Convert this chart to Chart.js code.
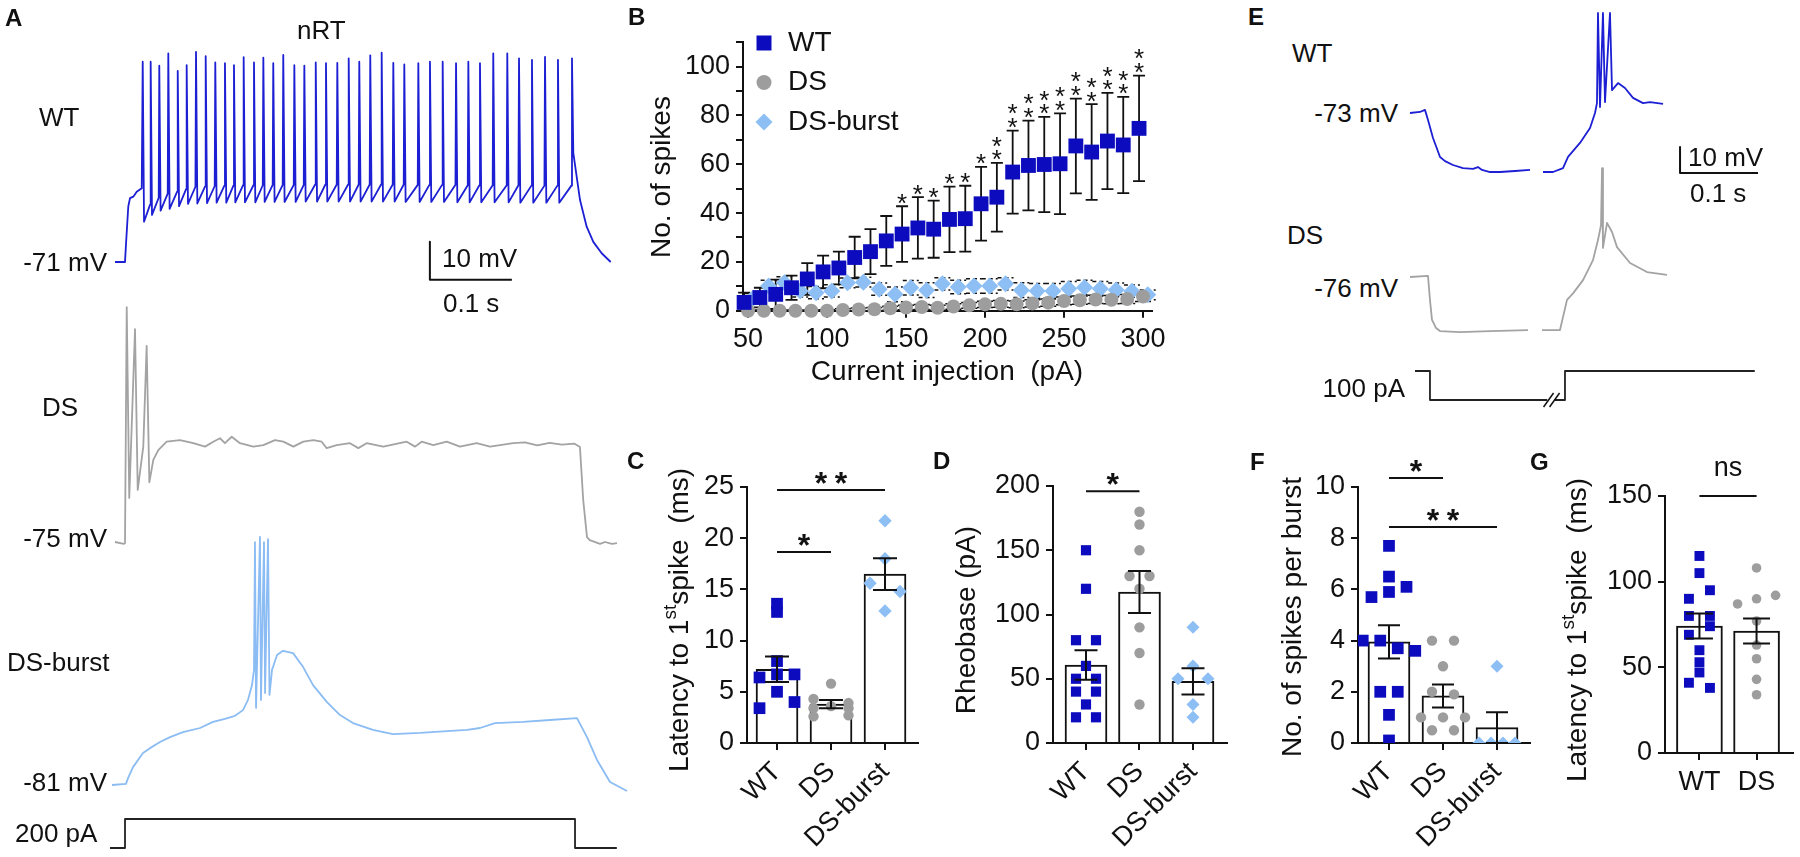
<!DOCTYPE html>
<html>
<head>
<meta charset="utf-8">
<script src="https://cdn.jsdelivr.net/npm/chart.js@4.4.1/dist/chart.umd.min.js"></script>
<style>
html, body { margin: 0; padding: 0; background: #fff; }
#page { position: relative; width: 1800px; height: 857px; overflow: hidden; font-family: "Liberation Sans", Arial, sans-serif; color: #111; }
canvas { position: absolute; }
.t { position: absolute; font-size: 26px; line-height: 1; white-space: nowrap; transform: translateY(-50%); z-index: 2; }
.b { font-weight: bold; font-size: 24px; }
</style>
</head>
<body>
<div id="page"></div>
<script>
// ---------- B: number of spikes vs injected current ----------
const currents = [50, 60, 70, 80, 90, 100, 110, 120, 130, 140, 150, 160, 170, 180, 190, 200, 210, 220, 230, 240, 250, 260, 270, 280, 290, 300];
const wtSpikes = [3.4, 5.4, 6.7, 9.4, 13, 15.9, 17.5, 21.8, 24.2, 28.6, 31.4, 33.9, 33.4, 37.4, 37.7, 43.8, 46.5, 56.8, 59.5, 59.9, 60.2, 67.5, 65, 69.5, 67.9, 74.7];
const wtSpikesErr = [4, 4, 6, 5, 6.5, 6.7, 6.7, 8.5, 9.2, 10.2, 11.4, 12.6, 11.7, 13.4, 13.5, 15.1, 14.1, 17, 18.4, 19.5, 20.6, 19.4, 19.6, 19.7, 19.7, 21.6];
const dsSpikes = [0, 0, 0, 0, 0, 0, 0.3, 0.5, 0.6, 1, 1.3, 1.5, 1.2, 1.7, 2.2, 2.6, 2.8, 2.6, 3, 3.3, 4, 4.3, 4.6, 4.5, 4.8, 5.8];
const dsSpikesErr = [0.3, 0.3, 0.3, 0.3, 0.3, 0.4, 0.5, 0.6, 0.7, 0.8, 0.9, 1, 1, 1.1, 1.2, 1.3, 1.4, 1.4, 1.5, 1.5, 1.6, 1.7, 1.7, 1.7, 1.8, 2];
const burstSpikes = [5, 10.1, 11.4, 8.1, 7.4, 8.1, 11.4, 11.7, 8.8, 6.7, 9.4, 8.4, 11, 9.7, 10.1, 10.1, 11, 8.4, 8.1, 8.1, 9, 9.5, 9, 8.5, 8, 6.5];
const burstSpikesErr = [2, 2.4, 2.5, 2.5, 2.5, 2.5, 2, 2, 2.5, 3, 3, 3, 2.5, 2.8, 3, 3, 2.5, 3, 3, 3, 3, 3, 3, 2.8, 2.5, 2];
const wtStars = [0, 0, 0, 0, 0, 0, 0, 0, 0, 0, 1, 1, 1, 1, 1, 1, 2, 2, 2, 2, 2, 2, 2, 2, 2, 2];
const xTicksB = [50, 100, 150, 200, 250, 300];
const yTicksB = [0, 10, 20, 30, 40, 50, 60, 70, 80, 90, 100, 110];

// ---------- C, D, F, G: dot + bar panels ----------
const groups3 = ['WT', 'DS', 'DS-burst'];
const groups2 = ['WT', 'DS'];

const latWT = [13.6, 12.8, 8.0, 6.4, 6.7, 6.7, 5.0, 3.4, 4.0];
const latDS = [5.8, 4.3, 3.9, 3.4, 3.6, 3.4, 2.6, 2.7];
const latBurst = [21.7, 18, 15.6, 14.8, 12.9];
const latMean = [7.2, 3.8, 16.5];
const latSem = [1.25, 0.4, 1.55];
const yTicksC = [0, 5, 10, 15, 20, 25];

const rheoWT = [150, 120, 80, 80, 60, 50, 50, 40, 40, 30, 20, 20];
const rheoDS = [180, 170, 150, 130, 130, 120, 90, 70, 30];
const rheoBurst = [90, 60, 50, 50, 30, 20];
const rheoMean = [60.7, 117.5, 48];
const rheoSem = [11.5, 16.3, 10.2];
const yTicksD = [0, 50, 100, 150, 200];

const perBurstWT = [7.7, 6.5, 5.7, 5.9, 6.1, 4, 4, 3.7, 3.6, 2, 2, 1.1, 0.1];
const perBurstDS = [4, 4, 3, 2, 1.9, 1, 1, 1, 0.5, 0.5];
const perBurstBurst = [3, 0, 0, 0, 0];
const perBurstMean = [3.95, 1.84, 0.6];
const perBurstSem = [0.65, 0.45, 0.6];
const yTicksF = [0, 2, 4, 6, 8, 10];

const lat2WT = [115, 105, 90, 95, 80, 80, 69, 74, 60, 53, 47, 41, 38];
const lat2DS = [108, 87, 90, 92, 77, 63, 55, 43, 34];
const lat2Mean = [74.1, 71.2];
const lat2Sem = [7.3, 7.3];
const yTicksG = [0, 50, 100, 150];

// ---------- A: nRT traces (ms, mV) ----------
const wtOnsetA = [[0, -71], [12.2, -71], [13.5, -66], [16.2, -56.4], [18.3, -54.2], [22.3, -53.8], [26.5, -52.5], [32.6, -51.6]];
const wtSpikeTimesA = [33.8, 43.5, 54.0, 65.0, 76.5, 87.4, 98.8, 110.6, 122.3, 134.1, 145.1, 156.9, 169.5, 180.9, 193.0, 205.2, 218.7, 230.9, 244.8, 257.3,
  271.1, 285.0, 297.9, 311.3, 325.2, 339.4, 352.8, 369.9, 384.1, 399.6, 415.9, 430.9, 445.1, 461.3, 478.4, 492.7, 508.5, 524.4, 540.2, 557.3];
const wtSpikePeaksA = [-18.3, -18.3, -19.3, -16.1, -20.7, -19.2, -15.7, -16.8, -18.5, -18.7, -19.2, -17.1, -18.5, -17.2, -18.7, -16.5, -19.2, -19.3, -18.5, -18.7,
  -18.6, -17.4, -18.3, -16.6, -15.9, -18.6, -19.0, -18.7, -18.3, -18.3, -18.7, -18.3, -18.7, -16.1, -16.1, -17.4, -17.8, -17.0, -17.8, -17.4];
const wtTroughsA = [-60.4, -58.6, -57.5, -57, -56.3, -55.7, -55.6, -55.5, -55.4, -55.4, -55.3, -55.3, -55.3, -55.2, -55.2, -55.2, -55.2, -55.1, -55.1, -55.1,
  -55.1, -55.1, -55.1, -55.1, -55.1, -55.1, -55.2, -55.2, -55.2, -55.2, -55.3, -55.3, -55.3, -55.3, -55.3, -55.4, -55.4, -55.4, -55.4];
const wtOffsetA = [[558.9, -42.3], [567.1, -54.7], [575.2, -61.7], [583.3, -65.7], [593.5, -68.7], [604.5, -71]];
const dsTraceA = [[0, -75], [11, -75.5], [12.2, -75.3], [14.3, -13.2], [17.4, -63.4], [24.4, -19], [27.7, -61.3], [34.5, -49.9], [38.6, -23.4], [41.9, -59.3],
  [46.7, -53.4], [52.8, -50.8], [63, -48.6], [79.3, -48.2], [95.5, -49], [109.8, -49.9], [119.9, -48.6], [128, -47.7], [134.1, -49], [142.3, -47.3],
  [152.4, -49], [168.7, -49.9], [180.9, -49.5], [195.1, -48.2], [205.3, -48.6], [217.5, -49.9], [229.7, -48.6], [241.9, -48.2], [252, -48.6], [258.1, -50.3],
  [270.3, -49.5], [286.6, -49], [296.7, -50.3], [306.9, -49], [327.2, -49.9], [355.7, -48.6], [365.9, -49.9], [374, -48.6], [388.2, -49.5], [404.5, -48.6],
  [420.7, -49.9], [441.1, -49], [457.3, -49.9], [485.7, -49], [500, -48.8], [515, -49.6], [530, -48.9], [545, -49.4], [560, -49.1], [567, -50],
  [571, -64], [575.6, -73.7], [579, -74.5], [591.5, -75.5], [597.6, -75], [606, -75.5], [612.2, -75.3]];
const burstTraceA = [[-3.7, -81], [13.4, -80.7], [15.9, -79.2], [22, -76.3], [34.1, -72.6], [42.7, -71.3], [54.9, -69.7], [67.1, -68.4], [82.9, -67.1], [103.7, -66],
  [119.5, -64.4], [134.1, -63.6], [146.3, -62.8], [156.1, -61.3], [162.2, -58.6], [167.1, -54.7], [169.5, -50.7], [170.7, -17.1], [172, -60.7], [176.8, -15.7],
  [178, -58.6], [181.7, -17.1], [183, -56.8], [186.6, -16.3], [188.4, -57.3], [191.5, -50.7], [197.6, -46.8], [204.9, -45.7], [217.1, -46.3], [229.3, -49.9],
  [241.5, -54.7], [258.5, -59.2], [274.4, -62.6], [290.2, -64.7], [314.6, -66.5], [339, -67.6], [372, -67.3], [404.9, -66.8], [429.3, -66.5], [445.1, -66],
  [463.4, -64.7], [497.6, -64.4], [530.5, -63.9], [563.4, -63.4], [575.6, -68.4], [587.8, -74.4], [603.7, -80.2], [624.4, -82.6]];
const stepA = [[-6.1, 0], [12.2, 0], [12.2, 200], [561, 200], [561, 0], [612, 0]];
const scaleBarA = { t: 384, v: -75.7, dt: 100, dv: 10 };

// ---------- E: rebound traces (ms, mV) ----------
const wtTraceE = [[0, -73], [12.8, -72.6], [19.2, -71.8], [23.1, -75.7], [29.5, -82.6], [38.5, -89.9], [44.9, -91.5], [55.1, -93], [67.9, -94.2], [80.8, -94.5],
  [87.2, -93.8], [92.3, -94.9], [102.6, -95.7], [115.4, -95.7], [134.6, -95.3], [153.8, -94.9], [162, null], [170.5, -95.7], [183.3, -95.7], [196.2, -94.2],
  [202.6, -89.9], [217.9, -84.5], [230.8, -78.8], [237.2, -73], [239.7, -69.2], [241, -34.5], [243.6, -70.7], [247.4, -34.5], [250, -68.8], [256.4, -34.5],
  [259, -64.2], [266.7, -61.5], [275.6, -63.4], [285.9, -67.2], [298.7, -69.2], [307.7, -68.8], [324.4, -69.5]];
const dsTraceE = [[0, -76], [23.1, -75.6], [25.6, -84.8], [28.2, -92.5], [33.3, -95.6], [38.5, -96.8], [64.1, -97.2], [102.6, -96.8], [151.3, -96.4], [160, null],
  [169.2, -96.4], [192.3, -96.4], [201.3, -84.8], [209, -82.3], [221.8, -77.2], [234.6, -69.5], [241, -61.8], [244.9, -56], [246.2, -34.1], [247.4, -64.8],
  [252.6, -55.2], [259, -58.7], [265.4, -64.5], [282.1, -70.6], [303.8, -74.1], [329.5, -75.2]];
const stepE = [[6.4, 0], [25.6, 0], [25.6, -100], [176, -100], [178, null], [185, -100], [198.7, -100], [198.7, 0], [442, 0]];
const scaleBarE = { t: 346.2, v: -96.1, dt: 100, dv: 10 };

// ---------- look ----------
const FONT = '"Liberation Sans", Arial, sans-serif';
const INK = '#111';
const BLUE = '#0c0cbe', GRAY = '#9d9d9d', LIGHT = '#8dbff5';
const COLORS = [BLUE, GRAY, LIGHT];
const STYLES = ['rect', 'circle', 'rectRot'];
Chart.defaults.font.family = FONT;
Chart.defaults.color = INK;

const page = document.getElementById('page');

function addCanvas(id, left, top, w, h) {
  const c = document.createElement('canvas');
  c.id = id; c.width = w; c.height = h;
  c.style.left = left + 'px'; c.style.top = top + 'px';
  c.style.width = w + 'px'; c.style.height = h + 'px';
  page.appendChild(c);
  return c;
}

function addText(str, x, y, kind) {
  const d = document.createElement('div');
  d.className = 't' + (kind === 'b' ? ' b' : '');
  d.textContent = str;
  if (kind === 'r') d.style.right = (1800 - x) + 'px'; else d.style.left = x + 'px';
  d.style.top = y + 'px';
  page.appendChild(d);
}

// axis range so that value `val` lands on pixel `px` at `ppu` pixels per unit
function yRange(val, px, ppu, h) { const max = val + px / ppu; return { min: max - h / ppu, max }; }
function xRange(val, px, ppu, w) { const min = val - px / ppu; return { min, max: min + w / ppu }; }
const pts = arr => arr.map(p => ({ x: p[0], y: p[1] }));

function spikeTrain(onset, times, peaks, troughs, offset) {
  const out = pts(onset);
  times.forEach((t, i) => {
    if (i > 0) out.push({ x: t - 0.7, y: troughs[i - 1] + 4.5 });
    out.push({ x: t, y: peaks[i] });
    if (i < times.length - 1) out.push({ x: t + 1.6, y: troughs[i] });
  });
  return out.concat(pts(offset));
}

function scaleBar(b) {
  return [{ x: b.t, y: b.v + b.dv }, { x: b.t, y: b.v }, { x: b.t + b.dt, y: b.v }];
}

const base = { responsive: false, animation: false, devicePixelRatio: 1, events: [] };
const quiet = { legend: { display: false }, tooltip: { enabled: false } };

// ---------- plugins ----------
function marker(ctx, style, x, y, r, color) {
  ctx.save(); ctx.fillStyle = color; ctx.beginPath();
  if (style === 'rect') { const s = r * Math.SQRT1_2; ctx.rect(x - s, y - s, 2 * s, 2 * s); }
  else if (style === 'rectRot') { ctx.moveTo(x - r, y); ctx.lineTo(x, y - r); ctx.lineTo(x + r, y); ctx.lineTo(x, y + r); ctx.closePath(); }
  else ctx.arc(x, y, r, 0, Math.PI * 2);
  ctx.fill(); ctx.restore();
}

function drawStar(ctx, x, yc, size, bold) {
  ctx.font = (bold ? 'bold ' : '') + size + 'px ' + FONT;
  ctx.textAlign = 'center'; ctx.textBaseline = 'alphabetic';
  ctx.fillText('*', x, yc + 0.57 * size);
}

function drawErr(chart) {
  const ctx = chart.ctx, ys = chart.scales.y;
  chart.data.datasets.forEach((ds, i) => {
    if (!ds.err) return;
    const meta = chart.getDatasetMeta(i);
    ctx.save();
    ctx.strokeStyle = INK; ctx.lineWidth = ds.errWidth || 2; ctx.setLineDash(ds.errDash || []);
    meta.data.forEach((el, j) => {
      const v = ds.data[j].y, e = ds.err[j], w = ds.capWidth / 2;
      const yHi = ys.getPixelForValue(v + e), yLo = ys.getPixelForValue(Math.max(v - e, ys.min));
      ctx.beginPath();
      ctx.moveTo(el.x, yLo); ctx.lineTo(el.x, yHi);
      ctx.moveTo(el.x - w, yHi); ctx.lineTo(el.x + w, yHi);
      ctx.moveTo(el.x - w, yLo); ctx.lineTo(el.x + w, yLo);
      ctx.stroke();
    });
    ctx.restore();
  });
}

const errorBars = {
  id: 'errorBars',
  beforeDatasetsDraw(chart, a, o) { if (!o.top) drawErr(chart); },
  afterDatasetsDraw(chart, a, o) { if (o.top) drawErr(chart); }
};

const stars = {
  id: 'stars',
  afterDatasetsDraw(chart) {
    const ctx = chart.ctx, ys = chart.scales.y;
    chart.data.datasets.forEach((ds, i) => {
      if (!ds.stars) return;
      const meta = chart.getDatasetMeta(i);
      ctx.save(); ctx.fillStyle = INK;
      meta.data.forEach((el, j) => {
        const cap = ys.getPixelForValue(ds.data[j].y + ds.err[j]);
        for (let k = 0; k < ds.stars[j]; k++) drawStar(ctx, el.x, cap - 9.5 - 13.5 * k, 26, false);
      });
      ctx.restore();
    });
  }
};

const brackets = {
  id: 'brackets',
  afterDraw(chart, a, o) {
    const ctx = chart.ctx, xs = chart.scales.x, ys = chart.scales.y;
    (o.items || []).forEach(s => {
      const x0 = xs.getPixelForValue(s.a), x1 = xs.getPixelForValue(s.b), y = ys.getPixelForValue(s.y);
      ctx.save();
      ctx.strokeStyle = INK; ctx.lineWidth = 2;
      ctx.beginPath(); ctx.moveTo(x0, y); ctx.lineTo(x1, y); ctx.stroke();
      ctx.fillStyle = INK;
      const mid = (x0 + x1) / 2;
      if (s.text === 'ns') {
        ctx.font = '27px ' + FONT; ctx.textAlign = 'center'; ctx.textBaseline = 'alphabetic';
        ctx.fillText('ns', mid, y - 20);
      } else {
        const n = s.text.length;
        for (let k = 0; k < n; k++) drawStar(ctx, mid + (k - (n - 1) / 2) * 20, y - 14, 32, true);
      }
      ctx.restore();
    });
  }
};

const titles = {
  id: 'titles',
  afterDraw(chart, a, o) {
    const ctx = chart.ctx;
    (o.items || []).forEach(it => {
      ctx.save();
      ctx.translate(it.x, it.y);
      if (it.rot) ctx.rotate(-Math.PI / 2);
      const small = Math.round(it.size * 0.68);
      const parts = it.parts.map(p => ({ t: p.t, sup: p.sup, font: (p.sup ? small : it.size) + 'px ' + FONT }));
      let total = 0;
      parts.forEach(p => { ctx.font = p.font; p.w = ctx.measureText(p.t).width; total += p.w; });
      let x = -total / 2;
      ctx.fillStyle = INK; ctx.textBaseline = 'middle'; ctx.textAlign = 'left';
      parts.forEach(p => { ctx.font = p.font; ctx.fillText(p.t, x, p.sup ? -it.size * 0.32 : 0); x += p.w; });
      ctx.restore();
    });
  }
};

const legendB = {
  id: 'legendB',
  afterDraw(chart, a, o) {
    const ctx = chart.ctx;
    chart.data.datasets.forEach((ds, i) => {
      const y = o.y + i * o.dy;
      marker(ctx, ds.pointStyle, o.x, y, o.r[i], ds.backgroundColor);
      ctx.save();
      ctx.fillStyle = INK; ctx.font = '28px ' + FONT; ctx.textBaseline = 'middle'; ctx.textAlign = 'left';
      ctx.fillText(ds.label, o.x + o.gap, y);
      ctx.restore();
    });
  }
};

const breakMarks = {
  id: 'breakMarks',
  afterDraw(chart, a, o) {
    if (o.t === undefined) return;
    const ctx = chart.ctx;
    const x = chart.scales.x.getPixelForValue(o.t), y = chart.scales[o.axis].getPixelForValue(o.v);
    ctx.save(); ctx.strokeStyle = INK; ctx.lineWidth = 1.5;
    [-3, 3].forEach(d => { ctx.beginPath(); ctx.moveTo(x + d - 5, y + 7); ctx.lineTo(x + d + 5, y - 7); ctx.stroke(); });
    ctx.restore();
  }
};

function axisStyle(size) {
  return {
    grid: { drawOnChartArea: false, drawTicks: true, tickLength: 7, color: INK, lineWidth: 2 },
    border: { display: true, color: INK, width: 2 },
    ticks: { color: INK, font: { family: FONT, size }, padding: 6 }
  };
}

// ---------- trace charts ----------
function traceChart(canvas, xr, axes, datasets, extra) {
  const scales = { x: { type: 'linear', display: false, min: xr.min, max: xr.max } };
  Object.keys(axes).forEach(k => { scales[k] = { type: 'linear', display: false, min: axes[k].min, max: axes[k].max }; });
  return new Chart(canvas, {
    type: 'line',
    data: { datasets },
    options: {
      ...base,
      layout: { padding: 0 },
      spanGaps: false,
      elements: { point: { radius: 0 }, line: { tension: 0, borderJoinStyle: 'round', borderCapStyle: 'butt', fill: false } },
      plugins: { ...quiet, breakMarks: extra || {} },
      scales
    },
    plugins: [breakMarks]
  });
}

const WT_TRACE = '#1c1fd3', DS_TRACE = '#a3a3a3', BURST_TRACE = '#8bbcf3';

traceChart(addCanvas('traceA', 0, 0, 640, 857), xRange(0, 115, 0.82, 640),
  {
    yWT: yRange(-71, 262, 3.8, 857), yDS: yRange(-75, 542, 3.8, 857),
    yBurst: yRange(-81, 785, 3.8, 857), yI: yRange(0, 848, 0.145, 857)
  },
  [
    { data: spikeTrain(wtOnsetA, wtSpikeTimesA, wtSpikePeaksA, wtTroughsA, wtOffsetA), yAxisID: 'yWT', borderColor: WT_TRACE, borderWidth: 1.8 },
    { data: pts(dsTraceA), yAxisID: 'yDS', borderColor: DS_TRACE, borderWidth: 1.8 },
    { data: pts(burstTraceA), yAxisID: 'yBurst', borderColor: BURST_TRACE, borderWidth: 1.8 },
    { data: pts(stepA), yAxisID: 'yI', borderColor: '#222', borderWidth: 1.8 },
    { data: scaleBar(scaleBarA), yAxisID: 'yWT', borderColor: INK, borderWidth: 2 }
  ]);

traceChart(addCanvas('traceE', 1400, 0, 400, 420), xRange(0, 10, 0.78, 400),
  { yWT: yRange(-73, 113, 2.6, 420), yDS: yRange(-76, 277, 2.6, 420), yI: yRange(0, 371, 0.29, 420) },
  [
    { data: pts(wtTraceE), yAxisID: 'yWT', borderColor: WT_TRACE, borderWidth: 1.8 },
    { data: pts(dsTraceE), yAxisID: 'yDS', borderColor: DS_TRACE, borderWidth: 1.8 },
    { data: pts(stepE), yAxisID: 'yI', borderColor: '#222', borderWidth: 1.8 },
    { data: scaleBar(scaleBarE), yAxisID: 'yWT', borderColor: INK, borderWidth: 2 }
  ],
  { t: 181.5, v: -100, axis: 'yI' });

// ---------- B ----------
(function () {
  const ax = axisStyle(27);
  new Chart(addCanvas('chartB', 640, 20, 540, 380), {
    type: 'scatter',
    data: {
      datasets: [
        { label: 'WT', data: currents.map((c, i) => ({ x: c - 2.5, y: wtSpikes[i] })), err: wtSpikesErr, stars: wtStars, capWidth: 12, errWidth: 1.8,
          pointStyle: 'rect', pointRadius: 10.5, backgroundColor: BLUE, borderWidth: 0, clip: false },
        { label: 'DS', data: currents.map((c, i) => ({ x: c, y: dsSpikes[i] })), err: dsSpikesErr, capWidth: 16, errWidth: 1.5, errDash: [4, 3],
          pointStyle: 'circle', pointRadius: 7, backgroundColor: GRAY, borderWidth: 0, clip: false },
        { label: 'DS-burst', data: currents.map((c, i) => ({ x: c + 3, y: burstSpikes[i] })), err: burstSpikesErr, capWidth: 16, errWidth: 1.5, errDash: [4, 3],
          pointStyle: 'rectRot', pointRadius: 8.5, backgroundColor: LIGHT, borderWidth: 0, clip: false }
      ]
    },
    options: {
      ...base,
      layout: { padding: { top: 18.7, right: 28, left: 0, bottom: 0 } },
      plugins: {
        ...quiet,
        errorBars: { top: false },
        legendB: { x: 124, y: 23, dy: 39.5, gap: 24, r: [10.6, 7.5, 8.5] },
        titles: { items: [
          { x: 22, y: 157, rot: true, size: 28, parts: [{ t: 'No. of spikes' }] },
          { x: 307, y: 352, rot: false, size: 28, parts: [{ t: 'Current injection  (pA)' }] }
        ] }
      },
      scales: {
        x: { type: 'linear', min: 46.8, max: 305.7, ...ax,
          afterBuildTicks: s => { s.ticks = xTicksB.map(v => ({ value: v })); },
          afterFit: s => { s.height = 89.3; },
          ticks: { ...ax.ticks, maxRotation: 0, autoSkip: false } },
        y: { type: 'linear', min: 0, max: 110, ...ax,
          afterBuildTicks: s => { s.ticks = yTicksB.map(v => ({ value: v })); },
          afterFit: s => { s.width = 103; },
          ticks: { ...ax.ticks, autoSkip: false, callback: v => (v % 20 === 0 ? v : '') } }
      }
    },
    plugins: [errorBars, stars, legendB, titles]
  });
})();

// ---------- dot + bar panels ----------
function spread(chart, pairK) {
  const xs = chart.scales.x, ys = chart.scales.y;
  chart.data.datasets.forEach(ds => {
    if (!ds.vals) return;
    const cx = xs.getPixelForValue(ds.cat);
    const out = [];
    let row = [];
    const flush = () => {
      const n = row.length;
      row.forEach((v, k) => {
        const off = n === 2 ? (k ? 1 : -1) * ds.pitch * pairK : (k - (n - 1) / 2) * ds.pitch;
        out.push({ x: xs.getValueForPixel(cx + off), y: v });
      });
      row = [];
    };
    ds.vals.forEach(v => {
      if (row.length && Math.abs(ys.getPixelForValue(v) - ys.getPixelForValue(row[0])) > ds.rowPx) flush();
      row.push(v);
    });
    flush();
    ds.data = out;
  });
  chart.update();
}

function dotBar(id, box, p) {
  const datasets = [{
    type: 'bar', data: p.means.map((m, i) => ({ x: i, y: m })), err: p.sem, capWidth: p.cap,
    backgroundColor: '#fff', borderColor: INK, borderWidth: 2, barThickness: p.barW, order: 5
  }];
  p.points.forEach((vals, i) => datasets.push({
    type: 'scatter', vals, cat: i, pitch: p.pitch[i], rowPx: p.rowPx[i],
    data: vals.map(v => ({ x: i, y: v })),
    pointStyle: STYLES[i], pointRadius: p.radius[i], backgroundColor: COLORS[i], borderWidth: 0, order: 1
  }));
  const ax = axisStyle(27);
  const chart = new Chart(addCanvas(id, box[0], box[1], box[2], box[3]), {
    type: 'bar',
    data: { datasets },
    options: {
      ...base,
      layout: { padding: { top: p.padTop, right: p.padRight, left: 0, bottom: 0 } },
      plugins: { ...quiet, errorBars: { top: true }, brackets: { items: p.sig }, titles: { items: p.titles } },
      scales: {
        x: { type: 'linear', min: p.xMin, max: p.xMax, offset: false, ...ax, grid: { ...ax.grid, offset: false },
          afterBuildTicks: s => { s.ticks = p.cats.map((c, i) => ({ value: i })); },
          afterFit: s => { s.height = p.xH; },
          ticks: { ...ax.ticks, autoSkip: false, maxRotation: p.rot, minRotation: p.rot, callback: v => p.cats[Math.round(v)] } },
        y: { type: 'linear', min: p.yTicks[0], max: p.yTicks[p.yTicks.length - 1], ...ax,
          afterBuildTicks: s => { s.ticks = p.yTicks.map(v => ({ value: v })); },
          afterFit: s => { s.width = p.yW; },
          ticks: { ...ax.ticks, autoSkip: false } }
      }
    },
    plugins: [errorBars, brackets, titles]
  });
  spread(chart, p.pairK);
  return chart;
}

const latencyTitle = [{ t: 'Latency to 1' }, { t: 'st', sup: true }, { t: 'spike  (ms)' }];

dotBar('chartC', [640, 440, 290, 417], {
  cats: groups3, means: latMean, sem: latSem, points: [latWT, latDS, latBurst], yTicks: yTicksC,
  radius: [8.3, 5.2, 6.7], pitch: [17.5, 17.5, 15], rowPx: [7, 7, 9], pairK: 1,
  barW: 42, cap: 24, rot: 45, padTop: 47, padRight: 12, yW: 107, xH: 114, xMin: -0.556, xMax: 2.611,
  sig: [{ a: 0, b: 1, y: 18.65, text: '*' }, { a: 0, b: 2, y: 24.7, text: '**' }],
  titles: [{ x: 40, y: 180, rot: true, size: 28, parts: latencyTitle }]
});

dotBar('chartD', [940, 440, 300, 417], {
  cats: groups3, means: rheoMean, sem: rheoSem, points: [rheoWT, rheoDS, rheoBurst], yTicks: yTicksD,
  radius: [7.2, 5.2, 6.5], pitch: [10, 10, 15], rowPx: [8, 8, 8], pairK: 1,
  barW: 42, cap: 23, rot: 45, padTop: 46, padRight: 13, yW: 113, xH: 114, xMin: -0.617, xMax: 2.636,
  sig: [{ a: 0, b: 1, y: 196, text: '*' }],
  titles: [{ x: 27, y: 180, rot: true, size: 28, parts: [{ t: 'Rheobase (pA)' }] }]
});

dotBar('chartF', [1265, 440, 280, 417], {
  cats: groups3, means: perBurstMean, sem: perBurstSem, points: [perBurstWT, perBurstDS, perBurstBurst], yTicks: yTicksF,
  radius: [8.3, 5.2, 6.5], pitch: [17.5, 22, 12], rowPx: [11, 11, 11], pairK: 0.5,
  barW: 42, cap: 22, rot: 45, padTop: 47, padRight: 15, yW: 93, xH: 114, xMin: -0.574, xMax: 2.611,
  sig: [{ a: 0, b: 1, y: 10.35, text: '*' }, { a: 0, b: 2, y: 8.44, text: '**' }],
  titles: [{ x: 28, y: 177, rot: true, size: 28, parts: [{ t: 'No. of spikes per burst' }] }]
});

dotBar('chartG', [1548, 440, 252, 417], {
  cats: groups2, means: lat2Mean, sem: lat2Sem, points: [lat2WT, lat2DS], yTicks: yTicksG,
  radius: [7, 4.8], pitch: [10.5, 19], rowPx: [9, 9], pairK: 1,
  barW: 46, cap: 27, rot: 0, padTop: 56, padRight: 5, yW: 117, xH: 104, xMin: -0.603, xMax: 1.638,
  sig: [{ a: 0, b: 1, y: 150, text: 'ns' }],
  titles: [{ x: 30, y: 190, rot: true, size: 28, parts: latencyTitle }]
});

// ---------- text labels ----------
[
  ['A', 5, 18, 'b'], ['nRT', 297, 30], ['WT', 39, 117], ['-71 mV', 107, 262, 'r'], ['10 mV', 442, 258], ['0.1 s', 443, 303],
  ['DS', 42, 407], ['-75 mV', 107, 538, 'r'], ['DS-burst', 7, 662], ['-81 mV', 107, 782, 'r'], ['200 pA', 15, 833],
  ['B', 628, 17, 'b'], ['E', 1248, 17, 'b'], ['WT', 1292, 53], ['-73 mV', 1398, 113, 'r'], ['DS', 1287, 235], ['-76 mV', 1398, 288, 'r'],
  ['10 mV', 1688, 157], ['0.1 s', 1690, 193], ['100 pA', 1405, 388, 'r'],
  ['C', 627, 461, 'b'], ['D', 933, 461, 'b'], ['F', 1250, 462, 'b'], ['G', 1530, 462, 'b']
].forEach(l => addText(l[0], l[1], l[2], l[3]));
</script>
</body>
</html>
